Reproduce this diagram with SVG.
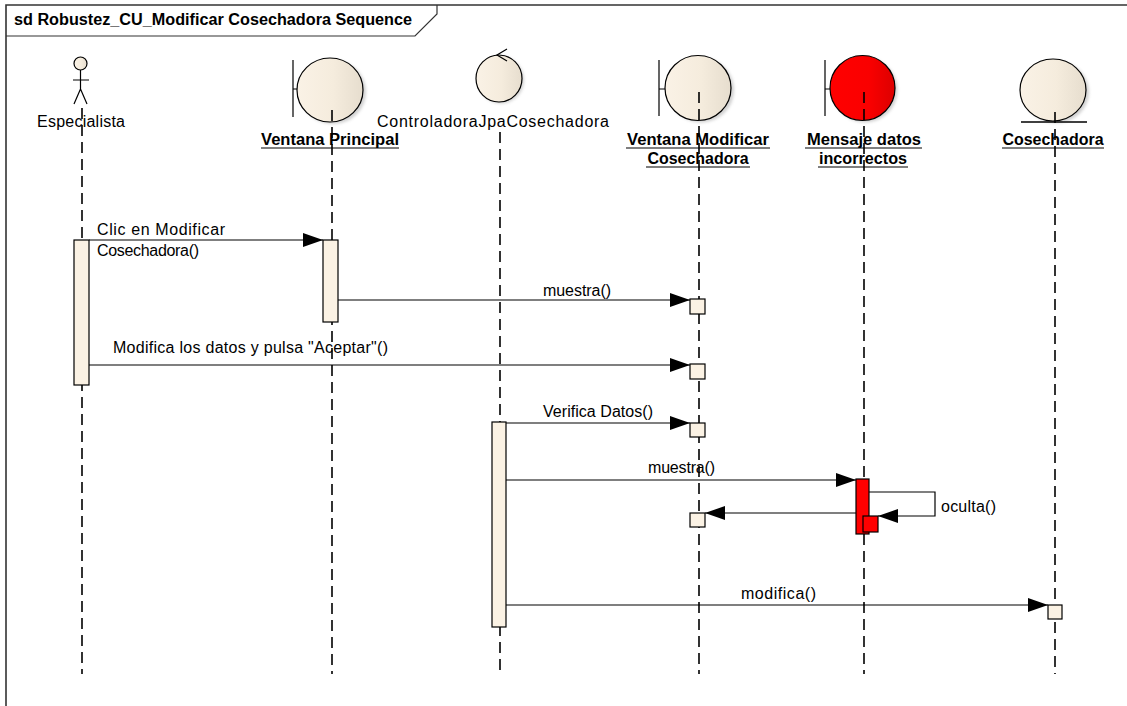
<svg xmlns="http://www.w3.org/2000/svg" width="1127" height="706" viewBox="0 0 1127 706">
<style>
  .t { font-family: "Liberation Sans", Arial, sans-serif; font-size: 16px; fill: #000; }
  .b { font-family: "Liberation Sans", Arial, sans-serif; font-size: 16px; font-weight: bold; fill: #000; }
  .ln { stroke: #000; stroke-width: 1.2; fill: none; }
  .life { stroke: #000; stroke-width: 1.6; stroke-dasharray: 11 6; fill: none; }
  .msg { stroke: #000; stroke-width: 1.2; fill: none; marker-end: url(#arr); }
  .act { fill: #FBF2E4; stroke: #000; stroke-width: 1.2; }
  .actr { fill: #FF0000; stroke: #000; stroke-width: 1.2; }
  .shadow { fill: #999; opacity: 0.45; filter: url(#blur); }
</style>
<defs>
  <marker id="arr" markerUnits="userSpaceOnUse" markerWidth="20" markerHeight="14" refX="20" refY="7" orient="auto">
    <path d="M0,0 L20,7 L0,14 z" fill="#000"/>
  </marker>
  <linearGradient id="beige" x1="0" y1="0" x2="1" y2="0">
    <stop offset="0" stop-color="#FAF2E6"/>
    <stop offset="0.55" stop-color="#F5ECDD"/>
    <stop offset="1" stop-color="#E6DDCE"/>
  </linearGradient>
  <linearGradient id="red" x1="0" y1="0" x2="1" y2="0">
    <stop offset="0" stop-color="#FF0000"/>
    <stop offset="0.6" stop-color="#FA0000"/>
    <stop offset="1" stop-color="#DC0000"/>
  </linearGradient>
  <filter id="blur" x="-20%" y="-20%" width="140%" height="140%">
    <feGaussianBlur stdDeviation="1.5"/>
  </filter>
</defs>

<g id="frame">
  <path d="M6,706 L6,5 L1127,5" fill="none" stroke="#333" stroke-width="1.6"/>
  <path d="M6,36 L415,36 L437,14 L437,5" fill="none" stroke="#333" stroke-width="1.2"/>
  <text class="b" x="14" y="25" textLength="398" lengthAdjust="spacingAndGlyphs">sd Robustez_CU_Modificar Cosechadora Sequence</text>
</g>

<g id="especialista">
  <circle cx="80.5" cy="63.5" r="6.5" fill="url(#beige)" stroke="#000" stroke-width="1.2"/>
  <path class="ln" d="M80.5,70 L80.5,89 M73,80 L89,80 M80.5,89 L74,104 M80.5,89 L87,104"/>
  <text class="t" x="81" y="127" text-anchor="middle" textLength="88" lengthAdjust="spacing">Especialista</text>
  <line class="life" x1="82" y1="108" x2="82" y2="674"/>
</g>

<g id="ventana-principal">
  <ellipse class="shadow" cx="333" cy="92" rx="33" ry="32"/>
  <ellipse cx="330" cy="90" rx="33" ry="32" fill="url(#beige)" stroke="#000" stroke-width="1.2"/>
  <path class="ln" d="M293,60 L293,117 M293,89 L297,89"/>
  <text class="b" x="330" y="145" text-anchor="middle" textLength="138" lengthAdjust="spacingAndGlyphs">Ventana Principal</text>
  <line x1="261" y1="148" x2="399" y2="148" stroke="#000" stroke-width="1.2"/>
  <line class="life" x1="332" y1="110" x2="332" y2="674"/>
</g>

<g id="controladora">
  <ellipse class="shadow" cx="501" cy="80" rx="23" ry="23.5"/>
  <ellipse cx="499" cy="78.5" rx="23" ry="23.5" fill="url(#beige)" stroke="#000" stroke-width="1.2"/>
  <path class="ln" d="M507,49 L497,55 L507,61"/>
  <text class="t" x="493" y="127" text-anchor="middle" textLength="232" lengthAdjust="spacing">ControladoraJpaCosechadora</text>
  <line class="life" x1="500" y1="132" x2="500" y2="674"/>
</g>

<g id="ventana-modificar">
  <ellipse class="shadow" cx="701" cy="90" rx="33" ry="32.5"/>
  <ellipse cx="698" cy="88" rx="33" ry="32.5" fill="url(#beige)" stroke="#000" stroke-width="1.2"/>
  <path class="ln" d="M659,60 L659,116 M659,89 L665,89"/>
  <text class="b" x="698" y="145" text-anchor="middle" textLength="142" lengthAdjust="spacingAndGlyphs">Ventana Modificar</text>
  <line x1="626" y1="148" x2="770" y2="148" stroke="#000" stroke-width="1.2"/>
  <text class="b" x="698" y="164" text-anchor="middle" textLength="101" lengthAdjust="spacingAndGlyphs">Cosechadora</text>
  <line x1="646" y1="167" x2="750" y2="167" stroke="#000" stroke-width="1.2"/>
  <line class="life" x1="699" y1="92" x2="699" y2="674"/>
</g>

<g id="mensaje-datos">
  <ellipse class="shadow" cx="865" cy="90" rx="32.5" ry="32.5"/>
  <ellipse cx="862.5" cy="88" rx="32.5" ry="32.5" fill="url(#red)" stroke="#000" stroke-width="1.2"/>
  <path class="ln" d="M825,60 L825,116 M825,89 L830,89"/>
  <text class="b" x="864" y="145" text-anchor="middle" textLength="114" lengthAdjust="spacingAndGlyphs">Mensaje datos</text>
  <line x1="805" y1="148" x2="922" y2="148" stroke="#000" stroke-width="1.2"/>
  <text class="b" x="863" y="164" text-anchor="middle" textLength="88" lengthAdjust="spacingAndGlyphs">incorrectos</text>
  <line x1="818" y1="167" x2="908" y2="167" stroke="#000" stroke-width="1.2"/>
  <line class="life" x1="864" y1="92" x2="864" y2="674"/>
</g>

<g id="cosechadora">
  <ellipse class="shadow" cx="1056" cy="92" rx="33" ry="31"/>
  <ellipse cx="1053" cy="90" rx="33" ry="31" fill="url(#beige)" stroke="#000" stroke-width="1.2"/>
  <line x1="1021" y1="122" x2="1087" y2="122" stroke="#000" stroke-width="1.4"/>
  <text class="b" x="1053" y="145" text-anchor="middle" textLength="101" lengthAdjust="spacingAndGlyphs">Cosechadora</text>
  <line x1="1002" y1="148" x2="1104" y2="148" stroke="#000" stroke-width="1.2"/>
  <line class="life" x1="1055" y1="112" x2="1055" y2="674"/>
</g>

<g id="activations">
  <rect class="act" x="74" y="240" width="15" height="145"/>
  <rect class="act" x="323" y="240" width="15" height="82"/>
  <rect class="act" x="492" y="422" width="14" height="205"/>
  <rect class="act" x="690" y="299" width="15" height="15"/>
  <rect class="act" x="690" y="364" width="15" height="15"/>
  <rect class="act" x="690" y="423" width="15" height="14"/>
  <rect class="act" x="690" y="513" width="15" height="14"/>
  <rect class="act" x="1048" y="605" width="14" height="14"/>
  <rect class="actr" x="856" y="479" width="13" height="55"/>
  <rect class="actr" x="863" y="516" width="15" height="16"/>
</g>

<g id="connectors">
  <line class="msg" x1="89" y1="240" x2="323" y2="240"/>
  <text class="t" x="97" y="235" textLength="128" lengthAdjust="spacing">Clic en Modificar</text>
  <text class="t" x="97" y="256" textLength="102" lengthAdjust="spacing">Cosechadora()</text>

  <line class="msg" x1="338" y1="300" x2="690" y2="300"/>
  <text class="t" x="577" y="296" text-anchor="middle" textLength="68" lengthAdjust="spacing">muestra()</text>

  <line class="msg" x1="89" y1="365" x2="690" y2="365"/>
  <text class="t" x="113" y="353" textLength="275" lengthAdjust="spacing">Modifica los datos y pulsa "Aceptar"()</text>

  <line class="msg" x1="506" y1="423" x2="690" y2="423"/>
  <text class="t" x="543" y="417" textLength="110" lengthAdjust="spacing">Verifica Datos()</text>

  <line class="msg" x1="506" y1="480" x2="856" y2="480"/>
  <text class="t" x="648" y="473" textLength="67" lengthAdjust="spacing">muestra()</text>

  <path class="msg" d="M869,492 L935,492 L935,516 L878,516"/>
  <text class="t" x="941" y="512" textLength="55" lengthAdjust="spacing">oculta()</text>

  <line class="msg" x1="856" y1="513" x2="705" y2="513"/>

  <line class="msg" x1="506" y1="605" x2="1048" y2="605"/>
  <text class="t" x="741" y="599" textLength="75" lengthAdjust="spacing">modifica()</text>
</g>
</svg>
